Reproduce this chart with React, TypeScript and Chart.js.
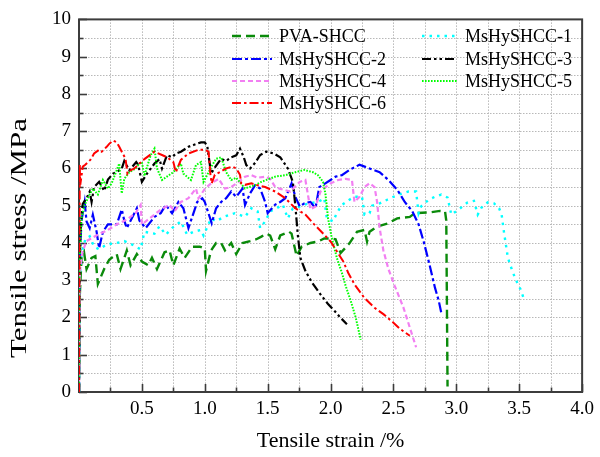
import React, { useEffect, useRef } from "react";
import { Chart, registerables } from "chart.js";

Chart.register(...registerables);

const seriesNames = ["PVA-SHCC", "MsHySHCC-1", "MsHySHCC-2", "MsHySHCC-3", "MsHySHCC-4", "MsHySHCC-5", "MsHySHCC-6"];

const pvaX = [0,0.005,0.02,0.04,0.06,0.1,0.13,0.15,0.2,0.24,0.3,0.33,0.38,0.41,0.46,0.5,0.55,0.58,0.62,0.68,0.72,0.75,0.8,0.84,0.9,0.96,1.0,1.01,1.05,1.09,1.13,1.16,1.21,1.25,1.3,1.36,1.41,1.45,1.49,1.52,1.56,1.6,1.67,1.69,1.73,1.77,1.84,1.9,1.95,2.0,2.04,2.08,2.15,2.21,2.27,2.29,2.31,2.37,2.45,2.53,2.63,2.67,2.79,2.87,2.91,2.92,2.93];
const pvaY = [0,2.5,3.6,3.75,3.3,3.6,3.65,2.9,3.3,3.55,3.7,3.3,3.8,3.4,3.7,3.5,3.4,3.6,3.3,3.75,3.8,3.4,3.85,3.6,3.9,3.9,3.85,3.25,3.8,4.0,4.0,3.8,4.0,3.7,4.0,4.05,4.1,4.17,4.25,4.2,3.83,4.2,4.3,4.25,3.65,3.9,4.0,4.04,4.12,4.12,4.1,3.73,3.99,4.3,4.35,4.04,4.3,4.44,4.52,4.66,4.7,4.8,4.82,4.86,4.85,4.6,0.15];

const m1X = [0,0.005,0.02,0.05,0.085,0.12,0.16,0.22,0.3,0.36,0.42,0.49,0.52,0.6,0.64,0.69,0.74,0.81,0.86,0.91,0.97,0.99,1.05,1.09,1.15,1.24,1.32,1.37,1.42,1.44,1.48,1.52,1.57,1.62,1.66,1.7,1.76,1.82,1.9,1.95,1.97,2.02,2.05,2.09,2.15,2.19,2.25,2.27,2.31,2.33,2.39,2.45,2.5,2.57,2.62,2.68,2.7,2.72,2.78,2.83,2.88,2.93,2.96,3.02,3.09,3.14,3.17,3.2,3.25,3.3,3.34,3.36,3.38,3.41,3.44,3.47,3.51,3.54];
const m1Y = [0,3.0,3.7,4.1,4.18,3.9,3.83,3.96,4.0,4.05,3.96,3.83,4.3,4.25,4.45,4.22,4.4,4.58,4.22,4.3,4.35,4.2,4.66,4.58,4.7,4.8,4.7,4.93,4.85,4.4,4.58,4.85,4.93,5.03,4.66,4.93,4.98,5.06,5.1,5.2,4.66,4.58,4.8,5.02,5.16,5.24,5.24,4.76,4.8,5.0,5.06,5.16,5.24,5.33,5.38,5.38,4.8,4.98,5.16,5.24,5.3,5.22,4.76,4.9,5.09,5.13,4.76,4.95,5.09,5.06,4.93,4.76,4.26,3.6,3.3,3.03,2.76,2.47];

const m2X = [0,0.005,0.02,0.045,0.06,0.085,0.11,0.14,0.16,0.19,0.23,0.3,0.34,0.36,0.38,0.46,0.48,0.53,0.6,0.65,0.69,0.74,0.79,0.83,0.87,0.94,0.98,1.0,1.055,1.09,1.13,1.17,1.21,1.25,1.3,1.32,1.36,1.4,1.44,1.48,1.5,1.56,1.6,1.64,1.69,1.72,1.755,1.79,1.84,1.88,1.91,1.94,2.0,2.04,2.09,2.15,2.23,2.31,2.39,2.46,2.53,2.59,2.65,2.7,2.74,2.78,2.83,2.86,2.88];
const m2Y = [0,3.5,4.6,5.1,4.58,4.4,4.76,4.3,3.86,4.3,4.5,4.5,4.9,4.6,4.4,4.93,4.6,4.4,4.7,4.8,5.02,4.8,5.1,4.93,4.4,5.1,5.2,5.1,4.53,4.93,5.1,5.2,5.38,5.24,5.46,5.02,5.33,5.55,5.46,5.1,4.8,5.03,5.1,5.2,5.6,5.24,4.98,5.06,5.1,4.93,5.5,5.56,5.69,5.78,5.82,5.96,6.1,6.0,5.9,5.69,5.43,5.1,4.85,4.5,4.04,3.51,2.8,2.45,2.13];

const m3X = [0,0.005,0.015,0.03,0.06,0.085,0.1,0.12,0.16,0.2,0.23,0.27,0.3,0.34,0.36,0.4,0.455,0.47,0.5,0.54,0.6,0.64,0.66,0.7,0.74,0.77,0.81,0.87,0.91,0.97,1.0,1.02,1.05,1.085,1.13,1.17,1.21,1.25,1.28,1.31,1.33,1.36,1.4,1.44,1.49,1.55,1.6,1.66,1.7,1.72,1.74,1.76,1.8,1.85,1.92,1.98,2.03,2.08,2.13];
const m3Y = [0,3.5,4.5,5.05,5.2,5.38,5.1,5.5,5.64,5.4,5.7,5.86,5.9,6.0,6.2,5.95,6.17,6.1,5.64,5.86,6.13,6.25,6.0,6.36,6.3,6.4,6.45,6.58,6.63,6.7,6.7,6.6,5.86,6.05,6.26,6.2,6.3,6.35,6.53,6.3,6.09,6.0,6.15,6.36,6.45,6.4,6.3,6.0,5.64,5.0,4.2,3.6,3.25,2.95,2.62,2.36,2.18,1.99,1.82];

const m4X = [0,0.005,0.015,0.03,0.06,0.1,0.15,0.23,0.3,0.38,0.45,0.49,0.5,0.6,0.65,0.72,0.76,0.81,0.87,0.93,0.95,1.0,1.05,1.11,1.16,1.21,1.27,1.32,1.37,1.42,1.48,1.52,1.56,1.6,1.68,1.755,1.8,1.84,1.88,1.92,1.96,2.0,2.06,2.12,2.17,2.19,2.23,2.27,2.31,2.35,2.37,2.39,2.42,2.46,2.51,2.58,2.63,2.68];
const m4Y = [0,3.0,3.5,3.78,4.05,4.13,4.22,4.35,4.5,4.63,4.8,5.02,4.5,4.76,4.9,5.02,4.85,5.1,5.2,5.46,5.2,5.45,5.6,5.72,5.46,5.5,5.64,5.78,5.82,5.75,5.78,5.72,5.5,5.45,5.38,5.64,5.69,4.9,4.98,5.38,5.5,5.6,5.69,5.72,5.69,5.1,5.24,5.5,5.6,5.5,5.1,4.4,3.8,3.3,2.85,2.26,1.73,1.2];

const m5X = [0,0.005,0.02,0.045,0.085,0.11,0.15,0.19,0.23,0.26,0.28,0.32,0.33,0.34,0.36,0.4,0.45,0.48,0.5,0.52,0.57,0.6,0.62,0.66,0.75,0.81,0.83,0.89,0.93,0.97,0.99,1.06,1.09,1.13,1.17,1.21,1.25,1.32,1.35,1.4,1.45,1.56,1.64,1.72,1.79,1.86,1.9,1.94,1.96,1.98,2.01,2.05,2.09,2.12,2.16,2.2,2.24];
const m5Y = [0,3.5,4.66,5.02,5.3,5.46,5.3,5.69,5.46,5.6,5.78,6.13,5.7,5.33,5.72,5.9,6.0,6.13,6.17,5.8,6.36,6.53,6.0,5.69,5.9,6.13,5.86,5.69,6.09,6.17,5.64,6.09,6.26,6.3,5.9,5.69,5.75,5.46,5.5,5.55,5.64,5.78,5.82,5.9,5.96,5.9,5.82,5.64,5.3,4.66,4.13,3.6,3.2,2.85,2.45,2.0,1.4];

const m6X = [0,0.003,0.006,0.01,0.03,0.05,0.09,0.12,0.16,0.18,0.22,0.24,0.27,0.3,0.32,0.34,0.37,0.385,0.41,0.44,0.48,0.52,0.6,0.66,0.7,0.75,0.77,0.81,0.87,0.95,1.0,1.03,1.045,1.055,1.08,1.12,1.17,1.22,1.25,1.28,1.29,1.32,1.37,1.42,1.48,1.56,1.64,1.72,1.8,1.87,1.95,2.0,2.04,2.1,2.14,2.19,2.27,2.35,2.42,2.5,2.55,2.63];
const m6Y = [0,3.0,6.1,5.56,6.05,6.1,6.23,6.4,6.5,6.45,6.58,6.66,6.75,6.7,6.58,6.45,6.26,5.86,5.95,6.0,6.13,6.25,6.45,6.36,6.3,6.17,5.9,6.23,6.4,6.5,6.5,6.45,5.83,5.6,5.83,5.9,6.0,6.05,6.0,5.83,5.6,5.56,5.6,5.55,5.5,5.38,5.2,4.93,4.76,4.5,4.22,4.04,3.83,3.51,3.2,2.89,2.52,2.26,2.09,1.86,1.7,1.51];

const seriesX = [pvaX, m1X, m2X, m3X, m4X, m5X, m6X];
const seriesY = [pvaY, m1Y, m2Y, m3Y, m4Y, m5Y, m6Y];

const xTickStep = 0.25;
const yTickStep = 0.5;

const colors = ["#0a8a0a", "#00ffff", "#0000ff", "#000000", "#f27ff2", "#00ff00", "#ff0000"];
const dashes = [[9, 5], [2.5, 5], [10, 3, 3, 3], [9, 3, 2.5, 3, 2.5, 3], [5, 3], [1.6, 1.4], [9, 3, 2.5, 3]];
const widths = [2.4, 2.4, 2.2, 2.2, 2.2, 2, 2];

// legend placement: [column, row]
const legendSlots = [[0, 0], [1, 0], [0, 1], [1, 1], [0, 2], [1, 2], [0, 3]];

const FONT = "'Liberation Serif', 'Times New Roman', serif";

const decorPlugin = {
  id: "decor",
  beforeDatasetsDraw(chart: any) {
    const { ctx, chartArea, scales } = chart;
    const { left, right, top, bottom } = chartArea;
    const x = scales.x;
    const y = scales.y;
    ctx.save();
    // dotted grid
    ctx.strokeStyle = "#b8b8b8";
    ctx.lineWidth = 1;
    ctx.setLineDash([1.5, 1.5]);
    for (let i = 1; i < 16; i++) {
      const px = Math.round(x.getPixelForValue(i * xTickStep)) + 0.5;
      ctx.beginPath();
      ctx.moveTo(px, top);
      ctx.lineTo(px, bottom);
      ctx.stroke();
    }
    for (let i = 1; i < 20; i++) {
      const py = Math.round(y.getPixelForValue(i * yTickStep)) + 0.5;
      ctx.beginPath();
      ctx.moveTo(left, py);
      ctx.lineTo(right, py);
      ctx.stroke();
    }
    ctx.setLineDash([]);
    ctx.strokeStyle = "#3c3c3c";
    ctx.lineWidth = 2;
    ctx.strokeRect(left, top, right - left, bottom - top);
    ctx.lineWidth = 1.6;
    for (let i = 0; i <= 16; i++) {
      const px = Math.round(x.getPixelForValue(i * xTickStep)) + 0.5;
      const len = i % 2 === 0 ? 8 : 4.5;
      ctx.beginPath();
      ctx.moveTo(px, bottom);
      ctx.lineTo(px, bottom - len);
      ctx.stroke();
    }
    for (let i = 0; i <= 20; i++) {
      const py = Math.round(y.getPixelForValue(i * yTickStep)) + 0.5;
      const len = i % 2 === 0 ? 8 : 4.5;
      ctx.beginPath();
      ctx.moveTo(left, py);
      ctx.lineTo(left + len, py);
      ctx.stroke();
    }
    ctx.restore();
  },
  afterDraw(chart: any) {
    const { ctx, chartArea } = chart;
    const { left, right } = chartArea;
    ctx.save();
    ctx.fillStyle = "#000";
    ctx.font = `22px ${FONT}`;
    ctx.textAlign = "center";
    ctx.textBaseline = "middle";
    ctx.fillText("Tensile strain /%", (left + right) / 2, 441);

    // y title: stretched along its length to match the reference
    const yTitle = "Tensile stress /MPa";
    ctx.save();
    ctx.font = `23px ${FONT}`;
    const w = ctx.measureText(yTitle).width;
    const target = 240;
    ctx.translate(20, 238);
    ctx.rotate(-Math.PI / 2);
    ctx.scale(target / w, 1);
    ctx.fillText(yTitle, 0, 0);
    ctx.restore();

    // legend
    const colLineX = [[232, 272], [422, 457]];
    const colTextX = [279, 465];
    const rowY = [36, 59, 81, 103];
    ctx.font = `18px ${FONT}`;
    ctx.textAlign = "left";
    ctx.textBaseline = "middle";
    seriesNames.forEach((name, i) => {
      const [c, r] = legendSlots[i];
      const yy = rowY[r];
      ctx.save();
      ctx.strokeStyle = colors[i];
      ctx.lineWidth = widths[i];
      ctx.setLineDash(dashes[i]);
      ctx.beginPath();
      ctx.moveTo(colLineX[c][0], yy);
      ctx.lineTo(colLineX[c][1], yy);
      ctx.stroke();
      ctx.restore();
      ctx.fillStyle = "#000";
      ctx.fillText(name, colTextX[c], yy + 1);
    });
    ctx.restore();
  },
};

export default function App() {
  const ref = useRef<HTMLCanvasElement | null>(null);
  useEffect(() => {
    document.body.style.margin = "0";
    const canvas = ref.current;
    if (!canvas) return;
    const datasets = seriesNames.map((name, i) => {
      const xs = seriesX[i];
      const ys = seriesY[i];
      const n = Math.min(xs.length, ys.length);
      const data = [] as { x: number; y: number }[];
      for (let k = 0; k < n; k++) data.push({ x: xs[k], y: ys[k] });
      return {
        label: name,
        data,
        borderColor: colors[i],
        backgroundColor: colors[i],
        borderWidth: widths[i],
        borderDash: dashes[i],
        pointRadius: 0,
        tension: 0,
        fill: false,
        order: 7 - i,
      };
    });
    const chart = new Chart(canvas, {
      type: "line",
      data: { datasets },
      options: {
        animation: false,
        responsive: false,
        devicePixelRatio: 1,
        layout: { padding: { left: 0, right: 13, top: 17, bottom: 0 } },
        plugins: { legend: { display: false }, tooltip: { enabled: false }, title: { display: false } },
        scales: {
          x: {
            type: "linear",
            min: 0,
            max: 4,
            afterFit: (s: any) => { s.height = 65; },
            ticks: {
              stepSize: xTickStep,
              autoSkip: false,
              maxRotation: 0,
              padding: 6,
              color: "#000",
              font: { family: FONT, size: 19 },
              callback: (v: any) => {
                const n = Number(v);
                if (n === 0) return "";
                return Math.abs(n * 2 - Math.round(n * 2)) < 1e-6 ? n.toFixed(1) : "";
              },
            },
            grid: { display: false, drawTicks: false },
            border: { display: false },
          },
          y: {
            type: "linear",
            min: 0,
            max: 10,
            afterFit: (s: any) => { s.width = 79; },
            ticks: {
              stepSize: yTickStep,
              autoSkip: false,
              padding: 8,
              color: "#000",
              font: { family: FONT, size: 19 },
              callback: (v: any) => {
                const n = Number(v);
                return Math.abs(n - Math.round(n)) < 1e-6 ? String(Math.round(n)) : "";
              },
            },
            grid: { display: false, drawTicks: false },
            border: { display: false },
          },
        },
      },
      plugins: [decorPlugin],
    } as any);
    return () => chart.destroy();
  }, []);
  return (
    <div style={{ position: "absolute", left: 0, top: 0, width: 600, height: 457, background: "#fff" }}>
      <canvas ref={ref} width={600} height={457} style={{ width: 600, height: 457, display: "block" }} />
    </div>
  );
}
